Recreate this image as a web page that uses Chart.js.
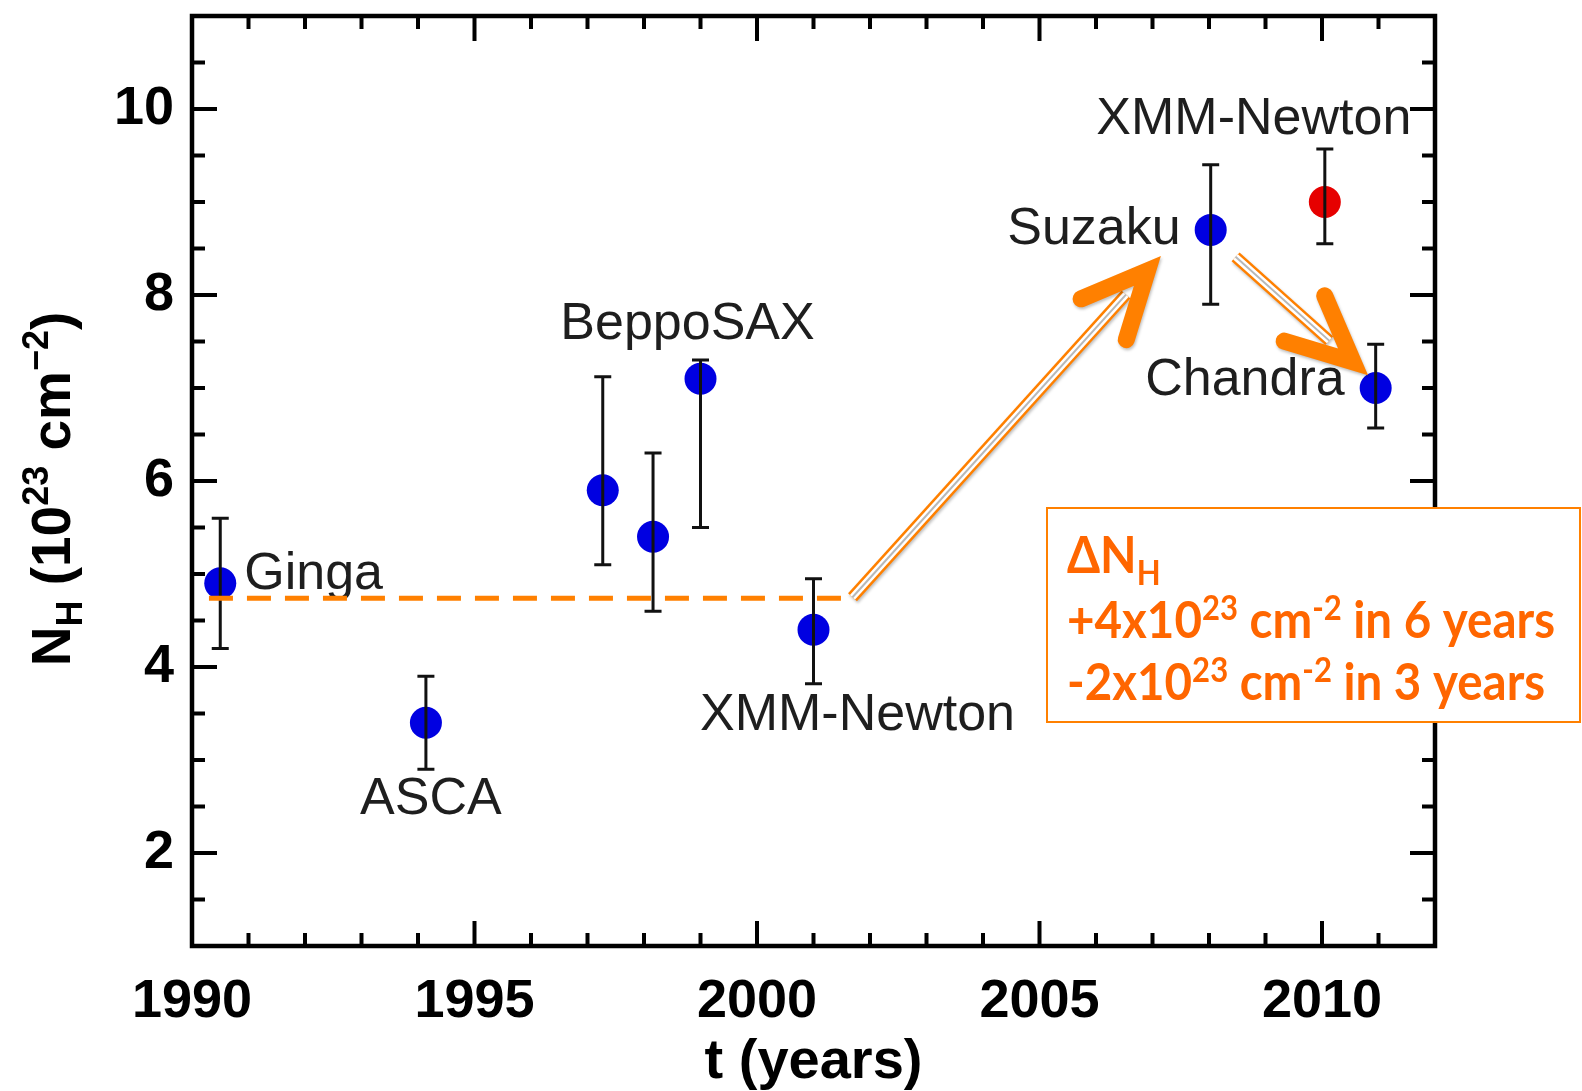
<!DOCTYPE html>
<html>
<head>
<meta charset="utf-8">
<script src="https://cdn.jsdelivr.net/npm/chart.js@4.4.1/dist/chart.umd.min.js"></script>
<style>
  html, body { margin: 0; padding: 0; background: #fff; }
  #nhChart { display: block; }
</style>
</head>
<body>
<canvas id="nhChart" width="1582" height="1091"></canvas>
<script>
// Column density measurements over time
const years = [1990.5, 1994.14, 1997.27, 1998.16, 1999.0, 2001.0, 2008.03, 2010.05, 2010.95];
const nh = [4.9, 3.4, 5.9, 5.4, 7.1, 4.4, 8.7, 9.0, 7.0];
const nhLow = [4.2, 2.9, 5.1, 4.6, 5.5, 3.82, 7.9, 8.55, 6.57];
const nhHigh = [5.6, 3.9, 7.12, 6.3, 7.3, 4.95, 9.4, 9.57, 7.47];
const missions = ['Ginga', 'ASCA', 'BeppoSAX', 'BeppoSAX', 'BeppoSAX', 'XMM-Newton', 'Suzaku', 'XMM-Newton', 'Chandra'];
const redPoint = 7; // latest XMM-Newton

// axes
const xTicks = [1990, 1995, 2000, 2005, 2010];
const yTicks = [2, 4, 6, 8, 10];

// trend annotations (data units)
const baseLevel = 4.74;
const baseSpan = [1990.3, 2001.7];
const riseArrow = [[2001.69, 4.75], [2006.91, 8.26]];
const fallArrow = [[2008.47, 8.41], [2010.55, 7.28]];

const ORANGE = 'rgb(255,128,0)';
const TEXT_ORANGE = 'rgb(255,102,0)';

// label placement relative to point (pixels)
const labelPlace = [
    { i: 0, dx: 24, dy: -9, align: 'left' },
    { i: 1, dx: 5, dy: 77, align: 'center' },
    { i: 4, dx: -13, dy: -54, align: 'center' },
    { i: 5, dx: 44, dy: 86, align: 'center' },
    { i: 6, dx: -30, dy: 0, align: 'right' },
    { i: 7, dx: -71, dy: -82, align: 'center' },
    { i: 8, dx: -31, dy: -7, align: 'right' }
];

function drawRich(ctx, segs, x, y, align) {
    let w = 0;
    segs.forEach(s => {
        ctx.font = s.font;
        s.w = ctx.measureText(s.t).width;
        w += s.w;
    });
    let cx = align === 'center' ? x - w / 2 : align === 'right' ? x - w : x;
    ctx.textAlign = 'left';
    segs.forEach(s => {
        ctx.font = s.font;
        ctx.fillText(s.t, cx, y + (s.dy || 0));
        cx += s.w;
    });
    return w;
}

function drawArrow(ctx, x, y, pts) {
    const x0 = x.getPixelForValue(pts[0][0]), y0 = y.getPixelForValue(pts[0][1]);
    const x1 = x.getPixelForValue(pts[1][0]), y1 = y.getPixelForValue(pts[1][1]);
    const ang = Math.atan2(y1 - y0, x1 - x0);
    const back = ang + Math.PI;
    const headLen = 72, spread = 25 * Math.PI / 180;
    const sx = x1 - 32 * Math.cos(ang), sy = y1 - 32 * Math.sin(ang);

    ctx.save();
    ctx.lineCap = 'butt';
    ctx.shadowColor = 'rgba(0,0,0,0.25)';
    ctx.shadowBlur = 3;
    ctx.shadowOffsetX = 1;
    ctx.shadowOffsetY = 2;
    ctx.beginPath(); ctx.moveTo(x0, y0); ctx.lineTo(sx, sy);
    ctx.strokeStyle = ORANGE; ctx.lineWidth = 12; ctx.stroke();
    ctx.shadowColor = 'transparent';
    ctx.strokeStyle = '#fff'; ctx.lineWidth = 7; ctx.stroke();
    ctx.strokeStyle = '#b8b8b8'; ctx.lineWidth = 2; ctx.stroke();

    ctx.shadowColor = 'rgba(0,0,0,0.25)';
    ctx.beginPath();
    ctx.moveTo(x1 + headLen * Math.cos(back + spread), y1 + headLen * Math.sin(back + spread));
    ctx.lineTo(x1, y1);
    ctx.lineTo(x1 + headLen * Math.cos(back - spread), y1 + headLen * Math.sin(back - spread));
    ctx.strokeStyle = ORANGE;
    ctx.lineWidth = 17;
    ctx.lineCap = 'round';
    ctx.lineJoin = 'miter';
    ctx.miterLimit = 10;
    ctx.stroke();
    ctx.restore();
}

const annotations = {
    id: 'annotations',
    afterDatasetsDraw(chart) {
        const { ctx, chartArea: a, scales: { x, y } } = chart;
        ctx.save();

        // error bars over the markers
        ctx.strokeStyle = '#111';
        ctx.lineWidth = 3;
        years.forEach((t, i) => {
            const px = x.getPixelForValue(t);
            const lo = y.getPixelForValue(nhLow[i]);
            const hi = y.getPixelForValue(nhHigh[i]);
            ctx.beginPath();
            ctx.moveTo(px, lo); ctx.lineTo(px, hi);
            ctx.moveTo(px - 8.5, lo); ctx.lineTo(px + 8.5, lo);
            ctx.moveTo(px - 8.5, hi); ctx.lineTo(px + 8.5, hi);
            ctx.stroke();
        });

        // mission labels
        ctx.fillStyle = '#1e1e1e';
        ctx.font = '52px "Liberation Sans", Arial, sans-serif';
        ctx.textBaseline = 'middle';
        labelPlace.forEach(p => {
            ctx.textAlign = p.align;
            ctx.fillText(missions[p.i], x.getPixelForValue(years[p.i]) + p.dx, y.getPixelForValue(nh[p.i]) + p.dy);
        });

        // base level dashed line
        ctx.beginPath();
        ctx.setLineDash([24, 14]);
        ctx.strokeStyle = ORANGE;
        ctx.lineWidth = 5;
        const by = y.getPixelForValue(baseLevel);
        ctx.moveTo(x.getPixelForValue(baseSpan[0]), by);
        ctx.lineTo(x.getPixelForValue(baseSpan[1]), by);
        ctx.stroke();
        ctx.setLineDash([]);

        drawArrow(ctx, x, y, riseArrow);
        drawArrow(ctx, x, y, fallArrow);

        // frame with inward ticks
        ctx.strokeStyle = '#000';
        ctx.lineWidth = 4;
        for (let v = 1991; v < 2012; v++) {
            const px = x.getPixelForValue(v);
            const len = v % 5 === 0 ? 25 : 13;
            ctx.beginPath();
            ctx.moveTo(px, a.bottom); ctx.lineTo(px, a.bottom - len);
            ctx.moveTo(px, a.top); ctx.lineTo(px, a.top + len);
            ctx.stroke();
        }
        for (let v = 1.5; v < 11; v += 0.5) {
            const py = y.getPixelForValue(v);
            const len = v % 2 === 0 ? 25 : 13;
            ctx.beginPath();
            ctx.moveTo(a.left, py); ctx.lineTo(a.left + len, py);
            ctx.moveTo(a.right, py); ctx.lineTo(a.right - len, py);
            ctx.stroke();
        }
        ctx.lineWidth = 4.5;
        ctx.strokeRect(a.left, a.top, a.right - a.left, a.bottom - a.top);

        // axis titles
        ctx.fillStyle = '#000';
        ctx.textBaseline = 'alphabetic';
        const bold = s => `bold ${s}px "Liberation Sans", Arial, sans-serif`;
        drawRich(ctx, [{ t: 't (years)', font: bold(56) }], (a.left + a.right) / 2, 1078, 'center');

        ctx.save();
        ctx.translate(70, (a.top + a.bottom) / 2 + 8);
        ctx.rotate(-Math.PI / 2);
        drawRich(ctx, [
            { t: 'N', font: bold(55) },
            { t: 'H', font: bold(36), dy: 12 },
            { t: ' (10', font: bold(55) },
            { t: '23', font: bold(36), dy: -22 },
            { t: ' cm', font: bold(55) },
            { t: '\u22122', font: bold(36), dy: -22 },
            { t: ')', font: bold(55) }
        ], 0, 0, 'center');
        ctx.restore();

        // note box
        ctx.fillStyle = '#fff';
        ctx.fillRect(1047, 508, 533, 214);
        ctx.strokeStyle = ORANGE;
        ctx.lineWidth = 2;
        ctx.strokeRect(1047, 508, 533, 214);
        ctx.fillStyle = TEXT_ORANGE;
        const f = s => `bold ${s}px Lato, "Open Sans", sans-serif`;
        const line = (a, b) => [
            { t: a, font: f(52) },
            { t: '23', font: f(34), dy: -18 },
            { t: ' cm', font: f(52) },
            { t: '-2', font: f(34), dy: -18 },
            { t: b, font: f(52) }
        ];
        const l2 = line('+4x10', ' in 6 years');
        let w2 = 0;
        l2.forEach(s => { ctx.font = s.font; w2 += ctx.measureText(s.t).width; });
        const sx = 488 / w2;
        ctx.save();
        ctx.translate(1067, 0);
        ctx.scale(sx, 1);
        drawRich(ctx, [{ t: '\u0394N', font: f(52) }, { t: 'H', font: f(34), dy: 12 }], 0, 573, 'left');
        drawRich(ctx, l2, 0, 638, 'left');
        drawRich(ctx, line('-2x10', ' in 3 years'), 0, 700, 'left');
        ctx.restore();

        ctx.restore();
    }
};

const ctx = document.getElementById('nhChart').getContext('2d');
new Chart(ctx, {
    type: 'scatter',
    data: {
        datasets: [{
            label: 'N_H',
            data: years.map((t, i) => ({ x: t, y: nh[i] })),
            pointRadius: 16,
            pointHoverRadius: 16,
            pointBorderWidth: 0,
            pointBackgroundColor: years.map((t, i) => i === redPoint ? 'rgb(230,0,0)' : 'rgb(0,0,225)')
        }]
    },
    options: {
        responsive: false,
        animation: false,
        events: [],
        layout: { padding: { top: 10, right: 147, left: 0, bottom: 0 } },
        plugins: { legend: { display: false }, tooltip: { enabled: false } },
        scales: {
            x: {
                type: 'linear',
                min: 1990,
                max: 2012,
                grid: { display: false, drawTicks: false },
                border: { display: false },
                afterBuildTicks: s => { s.ticks = xTicks.map(v => ({ value: v })); },
                afterFit: s => { s.height = 145; s.paddingLeft = 0; s.paddingRight = 0; },
                ticks: {
                    color: '#000',
                    padding: 24,
                    maxRotation: 0,
                    font: { family: '"Liberation Sans", Arial, sans-serif', size: 54, weight: 'bold' },
                    callback: v => String(v)
                }
            },
            y: {
                type: 'linear',
                min: 1,
                max: 11,
                grid: { display: false, drawTicks: false },
                border: { display: false },
                afterBuildTicks: s => { s.ticks = yTicks.map(v => ({ value: v })); },
                afterFit: s => { s.width = 192; s.paddingTop = 0; s.paddingBottom = 0; },
                ticks: {
                    color: '#000',
                    padding: 18,
                    font: { family: '"Liberation Sans", Arial, sans-serif', size: 54, weight: 'bold' },
                    callback: v => String(v)
                }
            }
        }
    },
    plugins: [annotations]
});
</script>
</body>
</html>
